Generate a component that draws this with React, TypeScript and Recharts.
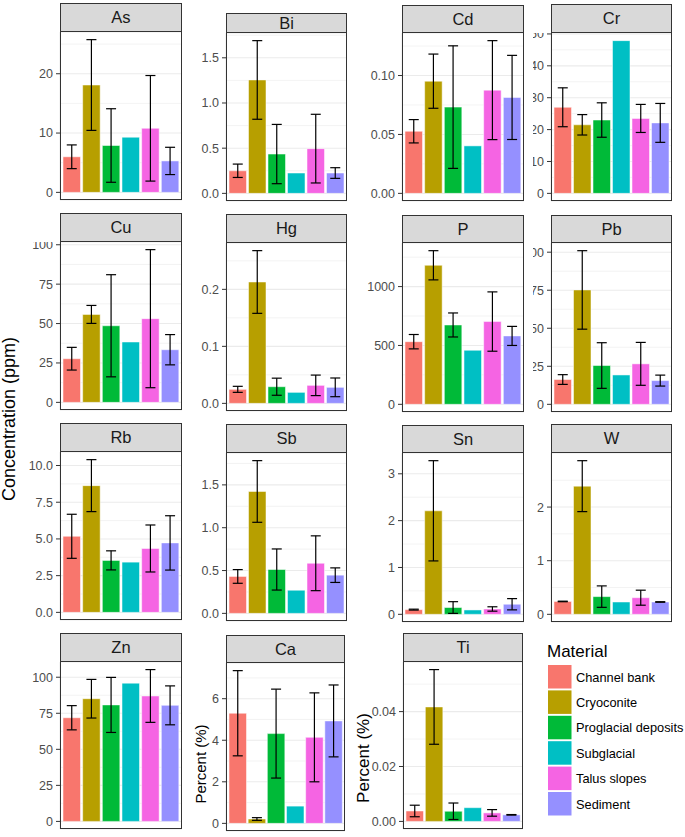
import React from "react";
import { BarChart, Bar, XAxis, YAxis, CartesianGrid, ErrorBar, Cell } from "recharts";

const materials = ["Channel bank", "Cryoconite", "Proglacial deposits", "Subglacial", "Talus slopes", "Sediment"];
const materialColors = ["#F8766D", "#B79F00", "#00BA38", "#00BFC4", "#F564E3", "#9590FF"];

// mean and sd per material (Subglacial has a single sample, no error bar)
const asMean = [6.0, 18.1, 7.9, 9.3, 10.8, 5.3];
const asSd = [2.0, 7.65, 6.2, null, 8.9, 2.3];
const asTicks = ["0", "10", "20"];

const biMean = [0.25, 1.255, 0.435, 0.225, 0.495, 0.225];
const biSd = [0.074, 0.435, 0.328, null, 0.38, 0.059];
const biTicks = ["0.0", "0.5", "1.0", "1.5"];

const cdMean = [0.0527, 0.0952, 0.0732, 0.0403, 0.0876, 0.0814];
const cdSd = [0.0099, 0.023, 0.052, null, 0.042, 0.0357];
const cdTicks = ["0.00", "0.05", "0.10"];

const crMean = [27.0, 21.5, 23.0, 47.9, 23.5, 22.1];
const crSd = [6.1, 3.2, 5.4, null, 4.4, 6.1];
const crTicks = ["0", "10", "20", "30", "40", "50"];

const cuMean = [27.7, 55.8, 48.6, 38.3, 53.1, 33.4];
const cuSd = [7.2, 5.7, 32.4, null, 43.8, 9.6];
const cuTicks = ["0", "25", "50", "75", "100"];

const hgMean = [0.0246, 0.2129, 0.0292, 0.0193, 0.0316, 0.0281];
const hgSd = [0.0053, 0.055, 0.015, null, 0.018, 0.0164];
const hgTicks = ["0.0", "0.1", "0.2"];

const pMean = [532, 1181, 674, 459, 703, 581];
const pSd = [61, 124, 102, null, 252, 81];
const pTicks = ["0", "500", "1000"];

const pbMean = [16.3, 75.2, 25.5, 19.3, 26.6, 15.6];
const pbSd = [3.2, 25.8, 15.0, null, 14.1, 3.6];
const pbTicks = ["0", "25", "50", "75", "100"];

const rbMean = [5.18, 8.63, 3.54, 3.42, 4.35, 4.73];
const rbSd = [1.5, 1.77, 0.65, null, 1.6, 1.85];
const rbTicks = ["0.0", "2.5", "5.0", "7.5", "10.0"];

const sbMean = [0.431, 1.423, 0.512, 0.27, 0.585, 0.446];
const sbSd = [0.08, 0.36, 0.24, null, 0.32, 0.085];
const sbTicks = ["0.0", "0.5", "1.0", "1.5"];

const snMean = [0.1, 2.21, 0.145, 0.093, 0.114, 0.215];
const snSd = [0.01, 1.07, 0.125, null, 0.047, 0.12];
const snTicks = ["0", "1", "2", "3"];

const wMean = [0.24, 2.39, 0.33, 0.23, 0.31, 0.23];
const wSd = [0.005, 0.475, 0.2, null, 0.14, 0.005];
const wTicks = ["0", "1", "2"];

const znMean = [71.9, 85.1, 80.8, 95.9, 87.0, 80.5];
const znSd = [8.4, 13.4, 19.1, null, 18.3, 13.5];
const znTicks = ["0", "25", "50", "75", "100"];

const caMean = [5.3, 0.21, 4.32, 0.83, 4.14, 4.93];
const caSd = [2.05, 0.065, 2.14, null, 2.14, 1.73];
const caTicks = ["0", "2", "4", "6"];

const tiMean = [0.0038, 0.0417, 0.0037, 0.005, 0.0031, 0.0024];
const tiSd = [0.0021, 0.0136, 0.003, null, 0.0012, 0.0001];
const tiTicks = ["0.00", "0.02", "0.04"];

const FONT = '"Liberation Sans", Arial, sans-serif';
const AXIS_W = 50;
const AXIS_H = 8;

type Panel = {
  name: string;
  mean: number[];
  sd: (number | null)[];
  ticks: string[];
  left: number;
  width: number;
  stripTop: number;
  plotTop: number;
  plotBottom: number;
  clipLeft?: number;
};

const panels: Panel[] = [
  { name: "As", mean: asMean, sd: asSd, ticks: asTicks, left: 60, width: 122, stripTop: 3, plotTop: 32, plotBottom: 200 },
  { name: "Bi", mean: biMean, sd: biSd, ticks: biTicks, left: 226, width: 121, stripTop: 13, plotTop: 33, plotBottom: 201 },
  { name: "Cd", mean: cdMean, sd: cdSd, ticks: cdTicks, left: 402, width: 122, stripTop: 5, plotTop: 33, plotBottom: 201 },
  { name: "Cr", mean: crMean, sd: crSd, ticks: crTicks, left: 551, width: 121, stripTop: 4, plotTop: 33, plotBottom: 201, clipLeft: 533 },
  { name: "Cu", mean: cuMean, sd: cuSd, ticks: cuTicks, left: 60, width: 122, stripTop: 213, plotTop: 242, plotBottom: 410 },
  { name: "Hg", mean: hgMean, sd: hgSd, ticks: hgTicks, left: 226, width: 121, stripTop: 214, plotTop: 243, plotBottom: 411 },
  { name: "P", mean: pMean, sd: pSd, ticks: pTicks, left: 402, width: 122, stripTop: 215, plotTop: 243, plotBottom: 412 },
  { name: "Pb", mean: pbMean, sd: pbSd, ticks: pbTicks, left: 551, width: 121, stripTop: 215, plotTop: 243, plotBottom: 412, clipLeft: 533 },
  { name: "Rb", mean: rbMean, sd: rbSd, ticks: rbTicks, left: 60, width: 122, stripTop: 423, plotTop: 452, plotBottom: 620 },
  { name: "Sb", mean: sbMean, sd: sbSd, ticks: sbTicks, left: 226, width: 121, stripTop: 424, plotTop: 453, plotBottom: 621 },
  { name: "Sn", mean: snMean, sd: snSd, ticks: snTicks, left: 402, width: 122, stripTop: 425, plotTop: 453, plotBottom: 622 },
  { name: "W", mean: wMean, sd: wSd, ticks: wTicks, left: 551, width: 121, stripTop: 424, plotTop: 453, plotBottom: 622 },
  { name: "Zn", mean: znMean, sd: znSd, ticks: znTicks, left: 60, width: 122, stripTop: 633, plotTop: 662, plotBottom: 829 },
  { name: "Ca", mean: caMean, sd: caSd, ticks: caTicks, left: 226, width: 119, stripTop: 635, plotTop: 663, plotBottom: 831 },
  { name: "Ti", mean: tiMean, sd: tiSd, ticks: tiTicks, left: 403, width: 120, stripTop: 633, plotTop: 662, plotBottom: 829 },
];

function FacetPanel({ p }: { p: Panel }) {
  const data = materials.map((m, i) => ({ material: m, value: p.mean[i], sd: p.sd[i] }));
  const top = Math.max(...p.mean.map((v, i) => v + (p.sd[i] ?? 0)));
  const domain = [-0.05 * top, 1.05 * top];
  const tickVals = p.ticks.map(Number);
  const step = tickVals[1] - tickVals[0];
  const minor: number[] = [];
  for (let v = tickVals[0] - step / 2; v <= domain[1]; v += step) {
    if (v >= domain[0]) minor.push(v);
  }
  const plotH = p.plotBottom - p.plotTop;
  const chartLeft = p.left - AXIS_W;
  const clipLeft = p.clipLeft ?? chartLeft;

  return (
    <>
      <div
        style={{
          position: "absolute",
          left: clipLeft,
          top: p.plotTop,
          width: p.left + p.width - clipLeft,
          height: plotH + AXIS_H,
          overflow: "hidden",
        }}
      >
        <div style={{ position: "absolute", left: chartLeft - clipLeft, top: 0 }}>
          <BarChart
            width={AXIS_W + p.width}
            height={plotH + AXIS_H}
            data={data}
            margin={{ top: 0, right: 0, bottom: 0, left: 0 }}
            barSize={17.5}
          >
            <CartesianGrid stroke="#EBEBEB" strokeWidth={0.6} vertical={false} horizontalValues={minor} />
            <CartesianGrid stroke="#EBEBEB" strokeWidth={1.1} />
            <XAxis
              dataKey="material"
              padding={{ left: 2, right: 2 }}
              height={AXIS_H}
              tick={false}
              axisLine={false}
              tickLine={{ stroke: "#333333" }}
              tickSize={4}
              interval={0}
            />
            <YAxis
              type="number"
              width={AXIS_W}
              domain={domain}
              ticks={tickVals}
              allowDataOverflow
              interval={0}
              axisLine={false}
              tickLine={{ stroke: "#333333" }}
              tickSize={4}
              tickMargin={3}
              tick={{ fill: "#4D4D4D", fontSize: 12.5, fontFamily: FONT }}
              tickFormatter={(v: number) => {
                const k = tickVals.indexOf(v);
                return k >= 0 ? p.ticks[k] : String(v);
              }}
            />
            <Bar dataKey="value" isAnimationActive={false} stroke="#ffffff" strokeOpacity={0.5}>
              {data.map((d, i) => (
                <Cell key={d.material} fill={materialColors[i]} />
              ))}
              <ErrorBar dataKey="sd" width={5} stroke="#000000" strokeWidth={1.2} isAnimationActive={false} />
            </Bar>
          </BarChart>
        </div>
      </div>
      <div
        style={{
          position: "absolute",
          left: p.left,
          top: p.plotTop - 1,
          width: p.width,
          height: plotH + 1,
          border: "1px solid #333333",
          boxSizing: "border-box",
          pointerEvents: "none",
        }}
      />
      <div
        style={{
          position: "absolute",
          left: p.left,
          top: p.stripTop,
          width: p.width,
          height: p.plotTop - p.stripTop,
          background: "#D9D9D9",
          border: "1px solid #333333",
          boxSizing: "border-box",
          display: "flex",
          alignItems: "center",
          justifyContent: "center",
          fontFamily: FONT,
          fontSize: 16.5,
          color: "#1A1A1A",
        }}
      >
        {p.name}
      </div>
    </>
  );
}

function MaterialLegend() {
  return (
    <svg width={145} height={200} style={{ position: "absolute", left: 540, top: 635 }}>
      <text x={7} y={22} fontFamily={FONT} fontSize={17} fill="#000">
        Material
      </text>
      {materials.map((m, i) => (
        <g key={m}>
          <rect x={8} y={30 + i * 25.4} width={23.5} height={23.5} fill={materialColors[i]} />
          <text x={36} y={30 + i * 25.4 + 16.5} fontFamily={FONT} fontSize={12.8} fill="#000">
            {m}
          </text>
        </g>
      ))}
    </svg>
  );
}

export default function App() {
  return (
    <div style={{ position: "absolute", left: 0, top: 0, width: 685, height: 837, background: "#fff", overflow: "hidden" }}>
      {panels.map((p) => (
        <FacetPanel key={p.name} p={p} />
      ))}
      <svg width={685} height={837} style={{ position: "absolute", left: 0, top: 0, pointerEvents: "none" }}>
        <text x={14.5} y={419} transform="rotate(-90 14.5 419)" textAnchor="middle" fontFamily={FONT} fontSize={18} fill="#000">
          Concentration (ppm)
        </text>
        <text x={205.5} y={764} transform="rotate(-90 205.5 764)" textAnchor="middle" fontFamily={FONT} fontSize={15} fill="#000">
          Percent (%)
        </text>
        <text x={369} y={758} transform="rotate(-90 369 758)" textAnchor="middle" fontFamily={FONT} fontSize={17} fill="#000">
          Percent (%)
        </text>
      </svg>
      <MaterialLegend />
    </div>
  );
}
